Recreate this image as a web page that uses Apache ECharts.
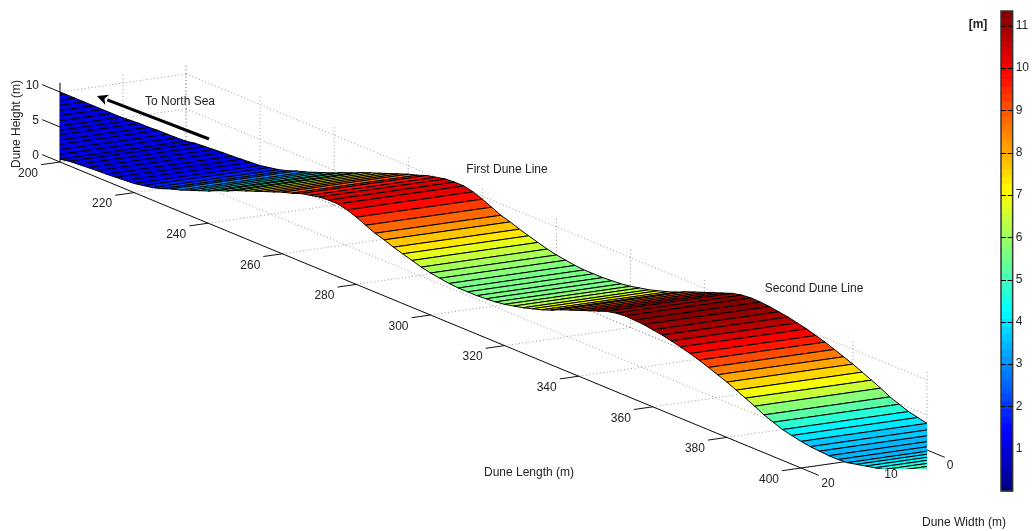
<!DOCTYPE html>
<html><head><meta charset="utf-8">
<style>html,body{margin:0;padding:0;background:#fff}#c{width:1032px;height:531px}</style>
<script src="https://cdn.jsdelivr.net/npm/echarts@6/dist/echarts.min.js"></script>
</head><body><div id="c"></div>
<script>
// Data
var duneLength = [165,167.5,170,172.5,175,177.5,180,182.5,185,187.5,190,192.5,195,197.5,200,202.5,205,207.5,210,212.5,215,217.5,220,222.5,225,227.5,230,232.5,235,237.5,240,242.5,245,247.5,250,252.5,255,257.5,260,262.5,265,267.5,270,272.5,275,277.5,280,282.5,285,287.5,290,292.5,295,297.5,300,302.5,305,307.5,310,312.5,315,317.5,320,322.5,325,327.5,330,332.5,335,337.5,340,342.5,345,347.5,350,352.5,355,357.5,360,362.5,365,367.5,370,372.5,375,377.5,380,382.5,385,387.5,390,392.5,395,397.5,400,402.5,405,407.5,410,412.5,415,417.5,420,422.5,425,427.5,430,432.5,435,437.5];
var duneHeight = [0,0,0,0,0,0,0,0,0.1,0.2,0.2,0.3,0.3,0.35,0.4,0.65,0.75,0.85,0.95,1.0,1.1,1.2,1.3,1.55,1.8,2.2,2.7,3.1,3.6,4.1,4.6,5.2,5.7,6.3,6.8,7.3,7.8,8.3,8.8,9.2,9.7,10.0,10.3,10.4,10.4,10.1,9.6,9.0,8.4,8.0,7.5,7.1,6.7,6.3,6.0,5.8,5.6,5.5,5.5,5.5,5.6,5.7,5.9,6.2,6.5,6.9,7.3,7.8,8.4,8.9,9.4,9.9,10.4,10.9,11.2,11.35,11.3,11.2,11.0,10.8,10.5,10.2,9.8,9.4,8.9,8.4,7.9,7.3,6.7,6.1,5.4,4.9,4.4,4.1,3.8,3.6,3.5,3.4,3.4,3.5,3.8,4.1,4.4,4.7,5.0,5.2,5.4,5.5,5.6,5.7];
var lengthTicks = [200,220,240,260,280,300,320,340,360,380,400];
var widthTicks = [0,10,20];
var heightTicks = [0,5,10];
var colorbarTicks = [1,2,3,4,5,6,7,8,9,10,11];
var axisTitles = ['Dune Height (m)','Dune Length (m)','Dune Width (m)'];
var annotations = ['To North Sea','First Dune Line','Second Dune Line'];

var FONT = '"Liberation Sans", Arial, sans-serif';
var TXT = '#222';
var HEIGHT_MAX = 11.3, CLIM_MAX = 11.35, CLR_FLOOR = 1.1, LEVELS = 64;

// oblique projection of the 3D box onto the page
function project(L, w, z) {
  var o = [60, 162];
  return [o[0] + (L-200)*3.705 + (20-w)*6.3, o[1] + (L-200)*1.53 - (20-w)*0.9 - z*7];
}
function jet(v) {
  var t = Math.min(LEVELS-1, Math.max(0, Math.floor(v/CLIM_MAX*LEVELS)));
  var f = (t+0.5)/LEVELS;
  function c(x){ return Math.round(255*Math.max(0, Math.min(1, 1.5-Math.abs(4*x)))); }
  return 'rgb('+c(f-0.75)+','+c(f-0.5)+','+c(f-0.25)+')';
}

// segments are [L1,w1,z1,L2,w2,z2]
var dotted = [];
lengthTicks.forEach(function(L){
  dotted.push([L,0,0,L,0,HEIGHT_MAX]);       // back wall verticals
  dotted.push([L,0,0,L,20,0]);               // floor
});
widthTicks.forEach(function(w){
  dotted.push([200,w,0,200,w,HEIGHT_MAX]);   // side wall verticals
  dotted.push([200,w,0,400,w,0]);            // floor
});
heightTicks.forEach(function(z){
  dotted.push([200,0,z,400,0,z]);            // back wall
  dotted.push([200,0,z,200,20,z]);           // side wall
});

var solid = [
  [200,20,0,400,20,0],
  [400,20,0,400,0,0],
  [200,20,0,200,20,HEIGHT_MAX]
];
lengthTicks.forEach(function(L){ solid.push([L,20,0,L,23,0]); });
widthTicks.forEach(function(w){ solid.push([400,w,0,404.8,w,0]); });
heightTicks.forEach(function(z){ solid.push([200,20,z,195.2,20,z]); });

function segRender(color, dash) {
  return function(params, api) {
    var a = project(api.value(0),api.value(1),api.value(2));
    var b = project(api.value(3),api.value(4),api.value(5));
    var p = api.coord(a), q = api.coord(b);
    return {type:'line', shape:{x1:p[0],y1:p[1],x2:q[0],y2:q[1]},
      style:{stroke:color, lineWidth:1, lineDash:dash||null}, silent:true};
  };
}

// labels: [text, px, py, rotation, align, weight]
var labels = [];
lengthTicks.forEach(function(L){ var p=project(L,20,0); labels.push([String(L),p[0]-32,p[1]+11.5,0,'center']); });
widthTicks.forEach(function(w){ var p=project(400,w,0); labels.push([String(w),p[0]+(w===0?23:27),p[1]+16,0,'center']); });
heightTicks.forEach(function(z){ var p=project(200,20,z); labels.push([String(z),p[0]-21,p[1]-6.5,0,'right']); });
labels.push([axisTitles[0],17,124,90,'center']);
labels.push([axisTitles[1],529,473,0,'center']);
labels.push([axisTitles[2],964,523,0,'center']);
labels.push([annotations[0],180,102,0,'center']);
labels.push([annotations[1],507,170,0,'center']);
labels.push([annotations[2],814,289,0,'center']);
labels.push(['[m]',978,25,0,'center','bold']);

var arrowFrom = [209,139], arrowTo = [97,96];

var hidden = function(i, o){ return Object.assign({show:false, gridIndex:i}, o); };

var option = {
  animation:false,
  backgroundColor:'#fff',
  grid:[
    {left:0,top:0,width:1032,height:531},
    {left:60,top:0,width:867,height:469},
    {left:1001,top:11,width:14,height:480}
  ],
  xAxis:[
    hidden(0,{type:'value',min:0,max:1032}),
    hidden(1,{type:'value',min:60,max:927}),
    hidden(2,{type:'value',min:0,max:1})
  ],
  yAxis:[
    hidden(0,{type:'value',min:0,max:531,inverse:true}),
    hidden(1,{type:'value',min:0,max:469,inverse:true}),
    {type:'value',gridIndex:2,position:'right',min:0,max:CLIM_MAX,interval:1,
     axisLine:{show:false},axisTick:{show:false},
     axisLabel:{show:true,margin:3,color:TXT,fontFamily:FONT,fontSize:12,showMinLabel:false,showMaxLabel:false,
       formatter:function(v){ return colorbarTicks.indexOf(v)>=0?String(v):''; }},
     splitLine:{show:false}}
  ],
  series:[
    {type:'custom',xAxisIndex:0,yAxisIndex:0,coordinateSystem:'cartesian2d',silent:true,z:1,
     data:dotted,renderItem:segRender('#999',[1,2.5])},
    {type:'custom',xAxisIndex:0,yAxisIndex:0,coordinateSystem:'cartesian2d',silent:true,z:2,
     data:solid,renderItem:segRender('#111')},
    {type:'custom',xAxisIndex:1,yAxisIndex:1,coordinateSystem:'cartesian2d',silent:true,z:3,clip:true,
     data:duneLength.slice(0,-1).map(function(L,i){return [i];}),
     renderItem:function(params,api){
       var i=api.value(0), L0=duneLength[i], L1=duneLength[i+1], z0=duneHeight[i], z1=duneHeight[i+1];
       var pts=[project(L0,0,z0),project(L1,0,z1),project(L1,20,z1),project(L0,20,z0)].map(function(p){return api.coord(p);});
       return {type:'polygon',shape:{points:pts},
         style:{fill:jet(Math.max(CLR_FLOOR,(z0+z1)/2)),stroke:'#000',lineWidth:1}};
     }},
    {type:'custom',xAxisIndex:2,yAxisIndex:2,coordinateSystem:'cartesian2d',silent:true,z:4,
     data:Array.from({length:LEVELS},function(_,k){return [k];}),
     renderItem:function(params,api){
       var k=api.value(0), s=CLIM_MAX/LEVELS;
       var a=api.coord([0,(k+1)*s]), b=api.coord([1,k*s]);
       return {type:'rect',shape:{x:a[0],y:a[1],width:b[0]-a[0],height:b[1]-a[1]+0.5},
         style:{fill:jet((k+0.5)*s)}};
     }},
    // colour bar frame and inward ticks on both sides
    {type:'custom',xAxisIndex:2,yAxisIndex:2,coordinateSystem:'cartesian2d',silent:true,z:5,
     data:colorbarTicks.map(function(v){return [v];}),
     renderItem:function(params,api){
       var v=api.value(0), l=api.coord([0,v]), r=api.coord([1,v]), y=Math.round(l[1])+0.5;
       var kids=[
         {type:'line',shape:{x1:l[0],y1:y,x2:l[0]+5,y2:y},style:{stroke:'#000',lineWidth:1}},
         {type:'line',shape:{x1:r[0]-5,y1:y,x2:r[0],y2:y},style:{stroke:'#000',lineWidth:1}}
       ];
       if(params.dataIndex===0){
         var a=api.coord([0,CLIM_MAX]), b=api.coord([1,0]);
         kids.push({type:'rect',shape:{x:a[0],y:a[1],width:b[0]-a[0],height:b[1]-a[1]},style:{fill:'none',stroke:'#333',lineWidth:1.5}});
       }
       return {type:'group',children:kids};
     }},
    {type:'custom',xAxisIndex:0,yAxisIndex:0,coordinateSystem:'cartesian2d',silent:true,z:6,
     data:[[0]],
     renderItem:function(params,api){
       var a=api.coord(arrowFrom), b=api.coord(arrowTo);
       var dx=a[0]-b[0], dy=a[1]-b[1], n=Math.sqrt(dx*dx+dy*dy); dx/=n; dy/=n;
       var m=[b[0]+dx*11,b[1]+dy*11];
       return {type:'group',children:[
         {type:'line',shape:{x1:a[0],y1:a[1],x2:m[0],y2:m[1]},style:{stroke:'#000',lineWidth:3}},
         {type:'polygon',shape:{points:[b,[m[0]+dy*5.5,m[1]-dx*5.5],[b[0]+dx*8,b[1]+dy*8],[m[0]-dy*5.5,m[1]+dx*5.5]]},style:{fill:'#000'}}
       ]};
     }},
    {type:'custom',xAxisIndex:0,yAxisIndex:0,coordinateSystem:'cartesian2d',silent:true,z:7,
     data:labels.map(function(l,i){return [i];}),
     renderItem:function(params,api){
       var l=labels[api.value(0)], p=api.coord([l[1],l[2]]);
       return {type:'text',x:p[0],y:p[1],rotation:l[3]*Math.PI/180,
         style:{text:l[0],fill:TXT,font:(l[5]==='bold'?'bold ':'')+'12px '+FONT,align:l[4],verticalAlign:'middle'}};
     }}
  ]
};
var chart = echarts.init(document.getElementById('c'),null,{renderer:'canvas'});
chart.setOption(option);
</script></body></html>
